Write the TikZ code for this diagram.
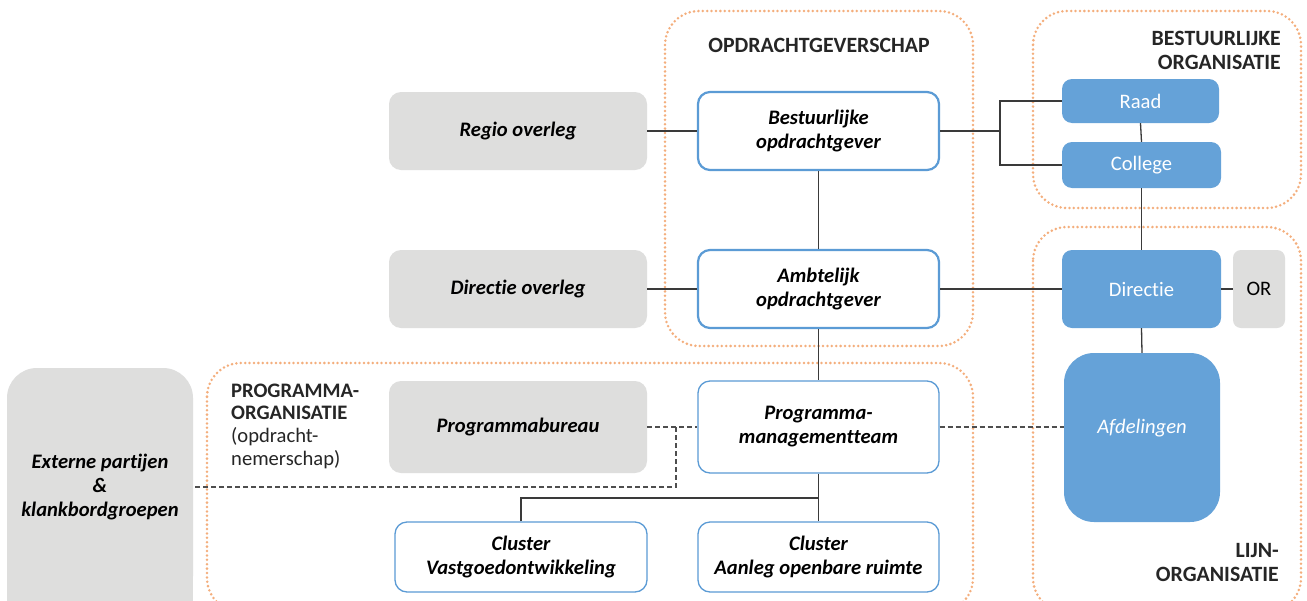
\documentclass[tikz,border=0pt]{standalone}
\usepackage{fontspec}
\setmainfont{Carlito}[Ligatures=NoCommon]
\usetikzlibrary{positioning}
\definecolor{orng}{HTML}{F4AE7C}
\definecolor{blu}{HTML}{5B9BD5}
\definecolor{bluf}{HTML}{65A2D8}
\definecolor{gry}{HTML}{DEDEDD}
\definecolor{lin}{HTML}{3A3A3A}
\definecolor{hdr}{HTML}{262626}
\tikzset{
  container/.style={draw=orng, line width=2.8pt, dash pattern=on 0pt off 4.4pt, line cap=round, rounded corners=34pt},
  graybox/.style={fill=gry, rounded corners=12pt, inner sep=0pt, font=\fontsize{20.6}{24}\selectfont\bfseries\itshape, text=black, align=center},
  whitebox/.style={draw=blu, fill=white, line width=2.2pt, rounded corners=12pt, inner sep=0pt, font=\fontsize{20.6}{24}\selectfont\bfseries\itshape, text=black, align=center},
  thinbox/.style={whitebox, line width=1.3pt},
  bluebox/.style={fill=bluf, rounded corners=10pt, inner sep=0pt, font=\fontsize{20.6}{24}\selectfont, text=white, align=center},
  header/.style={font=\fontsize{21.8}{24}\selectfont\bfseries, text=hdr, inner sep=0pt},
  conn/.style={draw=lin, line width=1.3pt},
  dconn/.style={draw=lin!90, line width=1.3pt, dash pattern=on 5pt off 3pt},
}
\begin{document}
\begin{tikzpicture}[x=1pt,y=-1pt]
\clip (0,0) rectangle (1307,600);
\fill[white] (0,0) rectangle (1307,600);
% containers
\draw[container] (665,11) rectangle (973,346);
\draw[container] (1033,11) rectangle (1301,208);
\draw[container] (1033,227) rectangle (1301,612);
\draw[container] (207,363) rectangle (973,612);
% headers
\node[header] (hopd) at (819,45) {OPDRACHTGEVERSCHAP};
\node[header, anchor=east, align=right] (hbest) at (1281,50) {BESTUURLIJKE\\ORGANISATIE};
\node[header, anchor=east, align=right] (hlijn) at (1279,562) {LIJN-\\ORGANISATIE};
\node[anchor=west, align=left, inner sep=0pt, text=hdr, font=\fontsize{20.6}{22.6}\selectfont] (hprog) at (231,426) {\textbf{PROGRAMMA-}\\\textbf{ORGANISATIE}\\(opdracht-\\nemerschap)};
% gray boxes
\node[graybox, minimum width=258pt, minimum height=78pt] (regio) at (518,131) {Regio overleg};
\node[graybox, minimum width=258pt, minimum height=78pt] (dirov) at (518,289) {Directie overleg};
\node[graybox, minimum width=258pt, minimum height=92pt] (pbur) at (518,427) {Programmabureau};
\node[graybox, rounded corners=30pt, minimum width=186pt, minimum height=238pt] (ext) at (100,487) {Externe partijen\\\&\\klankbordgroepen};
\fill[gry] (7,570) rectangle (193,610);
\node[graybox, font=\fontsize{20.6}{24}\selectfont, rounded corners=8pt, minimum width=52pt, minimum height=78pt] (or) at (1259,289) {OR};
% white boxes
\node[whitebox, minimum width=241pt, minimum height=78pt] (bopd) at (818.5,131) {Bestuurlijke\\opdrachtgever};
\node[whitebox, minimum width=241pt, minimum height=78pt] (aopd) at (818.5,289) {Ambtelijk\\opdrachtgever};
\node[thinbox, minimum width=241pt, minimum height=92pt] (pmt) at (818.5,427) {Programma-\\managementteam};
\node[thinbox, minimum width=252pt, minimum height=70pt] (clv) at (521,557) {Cluster\\Vastgoedontwikkeling};
\node[thinbox, minimum width=241pt, minimum height=70pt] (cla) at (818.5,557) {Cluster\\Aanleg openbare ruimte};
% blue boxes
\node[bluebox, minimum width=157pt, minimum height=44pt] (raad) at (1140.5,101) {Raad};
\node[bluebox, minimum width=159pt, minimum height=46pt] (coll) at (1141.5,165) {College};
\node[bluebox, minimum width=159pt, minimum height=78pt] (dir) at (1141.5,289) {Directie};
\node[bluebox, rounded corners=30pt, minimum width=156pt, minimum height=169pt] (afd) at (1142,437.5) {};
\node[font=\fontsize{20.6}{24}\selectfont\itshape, text=white, inner sep=0pt] (afdt) at (1142,428) {Afdelingen};
% connectors
\coordinate (br) at (1000,131);
\draw[conn] (regio.east) -- (bopd.west);
\draw[conn] (bopd.east) -- (br);
\draw[conn] (raad.west) -| (br) |- (coll.west);
\draw[conn] (raad.south) -- (coll.north);
\draw[conn] (coll.south) -- (dir.north);
\draw[conn] (bopd.south) -- (aopd.north);
\draw[conn] (dirov.east) -- (aopd.west);
\draw[conn] (aopd.east) -- (dir.west);
\draw[conn] (dir.east) -- (or.west);
\draw[conn] (dir.south) -- (afd.north);
\draw[conn] (aopd.south) -- (pmt.north);
\coordinate (cj) at (818.5,498);
\draw[conn] (pmt.south) -- (cj);
\draw[conn] (clv.north) |- (cj) -- (cla.north);
% dashed
\coordinate (dj) at (676,427);
\draw[dconn] (pbur.east) -- (pmt.west);
\draw[dconn] (dj) |- (ext.east);
\draw[dconn] (pmt.east) -- (afd.west |- pmt.east);
\end{tikzpicture}
\end{document}
